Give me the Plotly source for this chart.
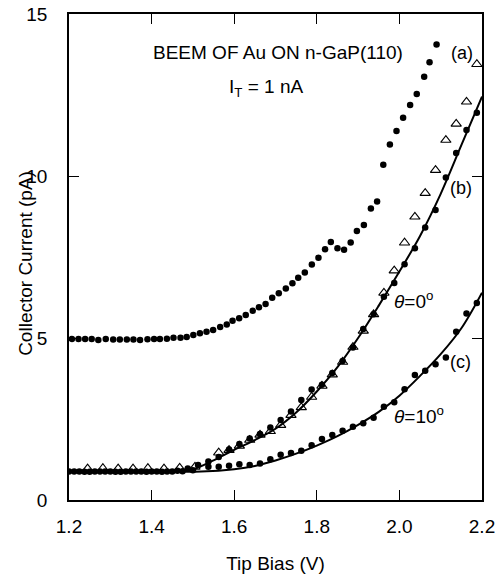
import plotly.graph_objects as go

# ---- data ----
a_v = [1.207,1.223,1.239,1.255,1.271,1.289,1.307,1.323,1.340,1.356,1.372,1.390,1.406,1.420,1.437,
       1.453,1.470,1.485,1.501,1.517,1.533,1.549,1.566,1.582,1.596,1.612,1.628,1.645,1.660,1.676,
       1.692,1.708,1.725,1.741,1.755,1.771,1.788,1.804,1.820,1.834,1.850,1.866,1.882,1.897,1.914,
       1.931,1.946,1.961,1.977,1.993,2.009,2.026,2.042,2.060,2.073,2.090]
a_i = [4.97,4.97,4.97,4.97,4.94,4.97,4.95,4.95,4.95,4.95,4.94,4.96,4.97,4.97,4.98,
       5.01,5.01,5.03,5.09,5.15,5.19,5.25,5.34,5.42,5.53,5.61,5.71,5.84,5.95,6.05,
       6.24,6.38,6.53,6.69,6.86,7.02,7.27,7.48,7.74,7.96,7.77,7.72,7.95,8.30,8.49,
       9.00,9.21,10.35,10.97,11.39,11.80,12.19,12.53,13.06,13.51,14.06]

b_v = [1.2125,1.2375,1.2625,1.2875,1.3125,1.3375,1.3625,1.3875,1.4125,1.4375,1.4625,1.4875,
       1.5125,1.5375,1.5625,1.5875,1.6125,1.6375,1.6625,1.6875,1.7125,1.7375,1.7625,1.7875,
       1.8125,1.8375,1.8625,1.8875,1.9125,1.9375,1.9625,1.9875,2.0125,2.0375,2.0625,2.0875,
       2.1125,2.1375,2.1625,2.1875]
b_i = [0.88,0.87,0.88,0.88,0.87,0.88,0.88,0.87,0.88,0.88,0.90,0.97,
       1.08,1.19,1.33,1.56,1.73,1.90,2.04,2.24,2.47,2.73,3.09,3.41,
       3.56,3.92,4.29,4.71,5.28,5.73,6.27,6.70,7.28,7.77,8.41,8.95,
       9.95,10.71,11.42,11.95]

c_v = [1.200,1.225,1.250,1.275,1.300,1.325,1.350,1.375,1.400,1.425,1.450,1.475,1.500,
       1.5375,1.5625,1.5875,1.6125,1.6375,1.6625,1.6875,1.7125,1.7375,1.7625,1.7875,
       1.8125,1.8375,1.8625,1.8875,1.9125,1.9375,1.9625,1.9875,2.0125,2.0375,2.0625,
       2.0875,2.1125,2.1375,2.1625,2.1875]
c_i = [0.88,0.88,0.87,0.88,0.88,0.87,0.88,0.88,0.88,0.87,0.88,0.89,0.92,
       1.03,1.03,1.06,1.10,1.08,1.13,1.26,1.40,1.45,1.52,1.69,
       1.88,2.01,2.14,2.26,2.37,2.54,2.88,3.02,3.42,3.86,3.99,
       4.19,4.40,5.19,5.76,6.08]

t_v = [1.245,1.282,1.319,1.355,1.391,1.430,1.468,1.505,
       1.5625,1.5875,1.6125,1.6375,1.6625,1.6875,1.7125,1.7375,1.7625,1.7875,1.8125,
       1.8375,1.8625,1.8875,1.9125,1.9375,1.9625,1.9875,2.0125,2.0375,2.0625,2.0875,
       2.1125,2.1375,2.1625,2.1875]
t_i = [0.97,0.98,0.97,0.97,0.98,0.97,0.99,1.02,
       1.46,1.54,1.67,1.85,2.01,2.12,2.31,2.62,2.86,3.18,3.52,
       3.87,4.26,4.72,5.22,5.73,6.39,7.08,7.94,8.74,9.47,10.18,
       11.11,11.61,12.29,13.45]

fitb_v = [1.20,1.48,1.50,1.55,1.60,1.65,1.70,1.75,1.80,1.85,1.90,1.95,2.00,2.05,2.10,2.15,2.20]
fitb_i = [0.90,0.90,0.94,1.22,1.55,1.85,2.20,2.70,3.35,4.10,5.00,6.00,7.05,8.15,9.45,10.95,12.45]

fitc_v = [1.20,1.52,1.60,1.65,1.70,1.75,1.80,1.85,1.90,1.95,2.00,2.05,2.10,2.15,2.20]
fitc_i = [0.90,0.88,0.95,1.05,1.22,1.43,1.68,1.97,2.32,2.72,3.22,3.83,4.50,5.30,6.40]

x_ticks = [1.2, 1.4, 1.6, 1.8, 2.0, 2.2]
x_ticktext = ["1.2", "1.4", "1.6", "1.8", "2.0", "2.2"]
y_ticks = [0, 5, 10, 15]
y_ticktext = ["0", "5", "10", "15"]

FONT = "Liberation Sans, Arial, Helvetica, sans-serif"

fig = go.Figure()
fig.add_trace(go.Scatter(x=fitb_v, y=fitb_i, mode="lines", line=dict(color="black", width=2, shape="spline"), showlegend=False))
fig.add_trace(go.Scatter(x=fitc_v, y=fitc_i, mode="lines", line=dict(color="black", width=2, shape="spline"), showlegend=False))
fig.add_trace(go.Scatter(x=t_v, y=t_i, mode="markers",
                         marker=dict(symbol="triangle-up-open", size=9, color="black", line=dict(width=1.1, color="black")),
                         showlegend=False))
for xs, ys in [(a_v, a_i), (b_v, b_i), (c_v, c_i)]:
    fig.add_trace(go.Scatter(x=xs, y=ys, mode="markers",
                             marker=dict(symbol="circle", size=6.5, color="black"), showlegend=False))

ann = [
    dict(x=1.398, y=13.8, text="BEEM OF Au ON n-GaP(110)", xanchor="left", size=19),
    dict(x=1.582, y=12.72, text="I<sub>T</sub> = 1 nA", xanchor="left", size=19),
    dict(x=2.151, y=13.8, text="(a)", xanchor="center", size=18),
    dict(x=2.149, y=9.63, text="(b)", xanchor="center", size=18),
    dict(x=2.149, y=4.26, text="(c)", xanchor="center", size=18),
    dict(x=1.981, y=6.17, text="<i>θ</i>=0<sup>o</sup>", xanchor="left", size=19),
    dict(x=1.981, y=2.62, text="<i>θ</i>=10<sup>o</sup>", xanchor="left", size=19),
]
for a in ann:
    fig.add_annotation(x=a["x"], y=a["y"], text=a["text"], xanchor=a["xanchor"], yanchor="middle",
                       showarrow=False, font=dict(family=FONT, size=a["size"], color="black"))

# y-axis title placed as rotated text so it can sit as close to the tick labels as in the reference
fig.add_annotation(xref="paper", yref="paper", x=-0.104, y=0.486, text="Collector Current (pA)",
                   textangle=-90, showarrow=False, xanchor="center", yanchor="middle",
                   font=dict(family=FONT, size=19, color="black"))

axis_common = dict(showline=True, linecolor="black", linewidth=1.5, mirror="ticks",
                   ticks="inside", ticklen=10, tickwidth=1.3, tickcolor="black",
                   showgrid=False, zeroline=False, automargin=False,
                   tickfont=dict(family=FONT, size=19, color="black"))

fig.update_xaxes(range=[1.2, 2.2], tickvals=x_ticks, ticktext=x_ticktext, ticklabelstandoff=8,
                 title=dict(text="Tip Bias (V)", font=dict(family=FONT, size=19, color="black"), standoff=21),
                 **axis_common)
fig.update_yaxes(range=[0, 15], tickvals=y_ticks, ticktext=y_ticktext, ticklabelstandoff=16,
                 **axis_common)

fig.update_layout(width=500, height=575, margin=dict(l=69, r=18, t=14, b=75),
                  plot_bgcolor="white", paper_bgcolor="white", showlegend=False)

fig.write_html("out.html", config={"displayModeBar": False},
               post_script="document.body.style.margin='0';")
